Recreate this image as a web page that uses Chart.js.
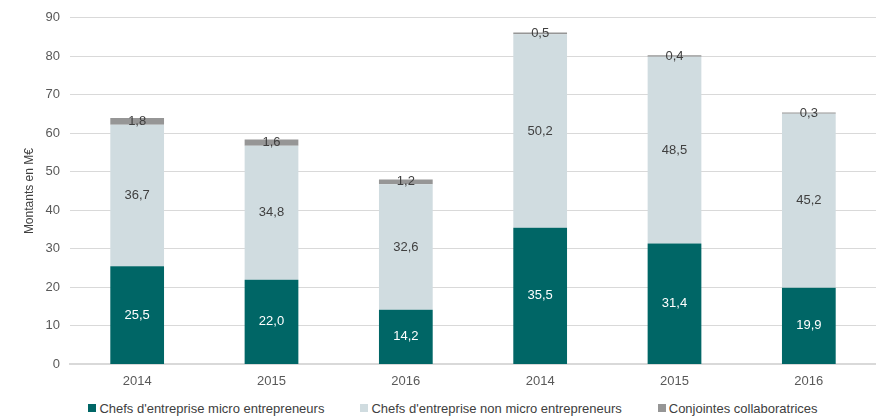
<!DOCTYPE html>
<html>
<head>
<meta charset="utf-8">
<script src="https://cdn.jsdelivr.net/npm/chart.js@4.4.1/dist/chart.umd.min.js"></script>
<style>
  html, body { margin: 0; padding: 0; background: #fff; }
  #wrap { width: 876px; height: 418px; position: relative; }
  #chartBox { width: 876px; height: 398px; position: relative; }
  #legend {
    height: 20px;
    display: flex;
    justify-content: center;
    align-items: center;
    padding-left: 30px;
    box-sizing: border-box;
    font: 13px 'Liberation Sans', Arial, sans-serif;
    color: #404040;
    white-space: nowrap;
  }
  #legend .item { display: flex; align-items: center; margin: 0 18px; }
  #legend .swatch { width: 8px; height: 8px; margin-right: 3px; }
</style>
</head>
<body>
<div id="wrap">
  <div id="chartBox"><canvas id="chart"></canvas></div>
  <div id="legend"></div>
</div>
<script>
// categories (two groups of years)
const categories = ["2014", "2015", "2016", "2014", "2015", "2016"];

// series values, M€
const microEntrepreneurs = [25.5, 22.0, 14.2, 35.5, 31.4, 19.9];
const nonMicroEntrepreneurs = [36.7, 34.8, 32.6, 50.2, 48.5, 45.2];
const conjointes = [1.8, 1.6, 1.2, 0.5, 0.4, 0.3];

const seriesNames = [
  "Chefs d'entreprise micro entrepreneurs",
  "Chefs d'entreprise non micro entrepreneurs",
  "Conjointes collaboratrices",
];

const yTicks = [0, 10, 20, 30, 40, 50, 60, 70, 80, 90];

const FONT = "'Liberation Sans', Arial, sans-serif";

// draws the value inside each segment
const segmentLabels = {
  id: "segmentLabels",
  afterDatasetsDraw(chart) {
    const ctx = chart.ctx;
    ctx.save();
    ctx.font = "13px " + FONT;
    ctx.textAlign = "center";
    ctx.textBaseline = "middle";
    chart.data.datasets.forEach((ds, i) => {
      const meta = chart.getDatasetMeta(i);
      meta.data.forEach((bar, j) => {
        const v = ds.data[j];
        const y = (bar.y + bar.base) / 2;
        ctx.fillStyle = i === 0 ? "#ffffff" : "#404040";
        ctx.fillText(v.toFixed(1).replace(".", ","), bar.x, y);
      });
    });
    ctx.restore();
  },
};

const ctx = document.getElementById("chart").getContext("2d");
const chart = new Chart(ctx, {
  type: "bar",
  data: {
    labels: categories,
    datasets: [
      { label: seriesNames[0], data: microEntrepreneurs, backgroundColor: "#006666" },
      { label: seriesNames[1], data: nonMicroEntrepreneurs, backgroundColor: "#d0dce0" },
      { label: seriesNames[2], data: conjointes, backgroundColor: "#969696" },
    ],
  },
  options: {
    responsive: true,
    maintainAspectRatio: false,
    animation: false,
    layout: { padding: { top: 10, right: 0, left: 22, bottom: 0 } },
    datasets: { bar: { barPercentage: 0.8, categoryPercentage: 0.5 } },
    plugins: {
      tooltip: { enabled: false },
      legend: { display: false },
    },
    scales: {
      x: {
        stacked: true,
        grid: { display: false, drawTicks: false },
        border: { color: "#d9d9d9", width: 2 },
        ticks: { color: "#595959", font: { family: FONT, size: 13 }, padding: 9 },
      },
      y: {
        stacked: true,
        min: 0,
        max: 90,
        afterBuildTicks(axis) {
          axis.ticks = yTicks.map((v) => ({ value: v }));
        },
        afterFit(axis) {
          axis.width = 48;
        },
        grid: { color: "#d9d9d9", drawTicks: false },
        border: { display: false },
        ticks: { color: "#595959", font: { family: FONT, size: 13 }, padding: 10 },
        title: {
          display: true,
          text: "Montants en M€",
          color: "#404040",
          font: { family: FONT, size: 12 },
          padding: 0,
        },
      },
    },
  },
  plugins: [segmentLabels],
});

// HTML legend built from the chart's datasets
const legendEl = document.getElementById("legend");
legendEl.innerHTML = chart.data.datasets
  .map(
    (ds) => `<span class="item"><span class="swatch" style="background:${ds.backgroundColor}"></span>${ds.label}</span>`,
  )
  .join("");
</script>
</body>
</html>
